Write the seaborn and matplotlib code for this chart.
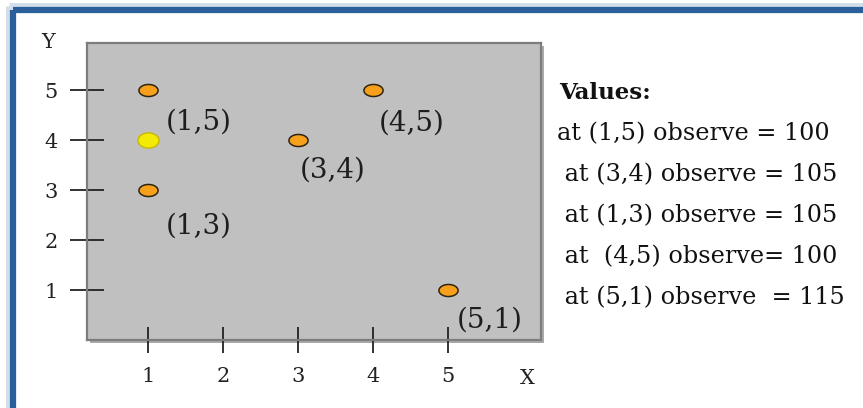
import matplotlib
matplotlib.use("Agg")
import matplotlib.pyplot as plt
import matplotlib.patheffects as pe
from matplotlib.patches import Rectangle
from matplotlib.path import Path
import numpy as np
import pandas as pd
import seaborn as sns

# Observation sites and their observed values
obs_x = [1, 3, 1, 4, 5]
obs_y = [5, 4, 3, 5, 1]
observed = [100, 105, 105, 100, 115]

# Highlighted (unobserved) location
target_x = [1]
target_y = [4]

x_ticks = [1, 2, 3, 4, 5]
y_ticks = [1, 2, 3, 4, 5]

# Label placement relative to each point, in pixels (dx, dy)
label_offsets = [(51, -32), (35, -30), (51, -36), (39, -33), (42, -30)]

value_lines = [
    "at (1,5) observe = 100",
    " at (3,4) observe = 105",
    " at (1,3) observe = 105",
    " at  (4,5) observe= 100",
    " at (5,1) observe  = 115",
]

sns.set_theme(style="white")
plt.rcParams["font.family"] = ["DejaVu Serif", "Liberation Serif"]

W, H = 863, 408
fig = plt.figure(figsize=(W / 100, H / 100), dpi=100)
fig.patch.set_facecolor("white")

def fx(px):
    return px / W

def fy(py):
    return 1 - py / H

# Blue frame (top and left edges visible), with a soft outer glow
glow = Rectangle((fx(9), fy(6)), 2, -2, transform=fig.transFigure,
                 fill=False, edgecolor="#d3deeb", linewidth=5, zorder=0)
frame = Rectangle((fx(13), fy(10)), 2, -2, transform=fig.transFigure,
                  fill=False, edgecolor="#2b5f9c", linewidth=4.5, zorder=1)
fig.add_artist(glow)
fig.add_artist(frame)

ax = fig.add_axes([fx(87), fy(340), fx(541) - fx(87), fy(43) - fy(340)])
ax.set_facecolor("#c0c0c0")
ax.patch.set_path_effects([
    pe.SimplePatchShadow(offset=(2, -2), shadow_rgbFace="#555555", alpha=0.5),
    pe.Normal(),
])
for sp in ax.spines.values():
    sp.set_color("#7d7d7d")
    sp.set_linewidth(1.6)

# Elliptical markers
t = np.linspace(0, 2 * np.pi, 60)
ell_flat = Path(np.column_stack([np.cos(t), 0.63 * np.sin(t)]), closed=True)
ell_round = Path(np.column_stack([np.cos(t), 0.72 * np.sin(t)]), closed=True)

df = pd.DataFrame({"x": obs_x, "y": obs_y, "value": observed})
sns.scatterplot(data=df, x="x", y="y", ax=ax, marker=ell_flat, s=190,
                color="#f6a01c", edgecolor="#2e2410", linewidth=1.1,
                zorder=3, legend=False)
sns.scatterplot(x=target_x, y=target_y, ax=ax, marker=ell_round, s=230,
                color="#f3ea05", edgecolor="#c9b800", linewidth=1.0,
                zorder=3, legend=False)

for x, y, (dx, dy) in zip(obs_x, obs_y, label_offsets):
    ax.annotate(f"({x},{y})", xy=(x, y), xytext=(dx, dy),
                textcoords="offset pixels", ha="center", va="center",
                fontsize=20, color="#1e1e1e", zorder=4)

ax.set_xlim(1 - 61 / 75, 1 + 393 / 75)
ax.set_ylim(0, 5 + 47 / 50)
ax.set_xticks(x_ticks)
ax.set_yticks(y_ticks)
ax.set_xticklabels([str(v) for v in x_ticks])
ax.set_yticklabels([str(v) for v in y_ticks])
ax.tick_params(axis="y", direction="inout", length=24, width=1.3,
               color="#222222", pad=9, labelsize=15, labelcolor="#222222",
               left=True)
ax.tick_params(axis="x", direction="inout", length=19, width=1.3,
               color="#222222", pad=10, labelsize=15, labelcolor="#222222",
               bottom=True)
ax.set_xlabel("")
ax.set_ylabel("")

fig.text(fx(48), fy(42), "Y", ha="center", va="center", fontsize=15,
         color="#222222")
fig.text(fx(527), fy(378), "X", ha="center", va="center", fontsize=15,
         color="#222222")

# Observed values listing
fig.text(fx(559), fy(93), "Values:", ha="left", va="center", fontsize=16.5,
         fontweight="bold", color="#111111")
for i, line in enumerate(value_lines):
    fig.text(fx(557), fy(134 + i * 41), line, ha="left", va="center",
             fontsize=17.2, color="#111111")

fig.savefig("out.png", dpi=100)
